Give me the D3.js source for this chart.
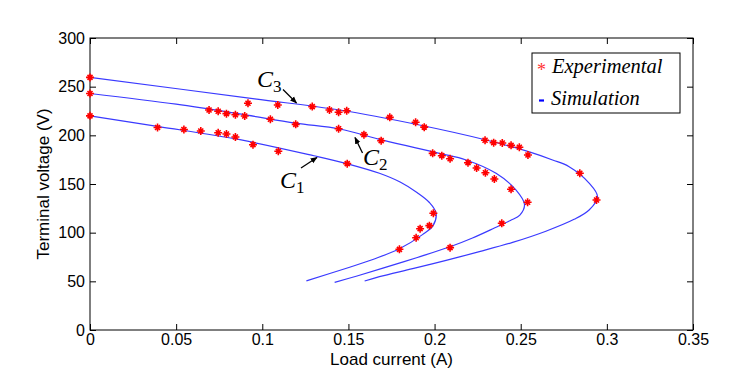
<!DOCTYPE html>
<html lang="en">
  <head>
    <meta charset="UTF-8" />
    <title>Terminal voltage vs load current</title>
    <script src="https://d3js.org/d3.v7.min.js"></script>
    <style>
      body { margin: 0; background: #fff; }
    </style>
  </head>
  <body>
    <svg width="730" height="368"></svg>

    <script>
      // tick values / labels
      const xTicks = [0, 0.05, 0.1, 0.15, 0.2, 0.25, 0.3, 0.35];
      const xTickLabels = ["0", "0.05", "0.1", "0.15", "0.2", "0.25", "0.3", "0.35"];
      const yTicks = [0, 50, 100, 150, 200, 250, 300];
      const yTickLabels = ["0", "50", "100", "150", "200", "250", "300"];

      // simulation curves [current A, voltage V]
      const simC1 = [[0, 220], [0.04, 209], [0.087, 195.5], [0.13, 179], [0.15, 170.5],
        [0.168, 161], [0.18, 152], [0.19, 141], [0.197, 131], [0.2009, 120], [0.199, 107],
        [0.193, 98], [0.1796, 83.5], [0.165, 73], [0.1507, 64.5], [0.1256, 50.5]];
      const simC2 = [[0, 243], [0.05, 232], [0.0869, 222], [0.1194, 212.5], [0.1449, 206.5],
        [0.17, 195], [0.2028, 181.5], [0.2183, 174.7], [0.2357, 161], [0.2472, 144],
        [0.2522, 129], [0.2495, 118], [0.244, 112.5], [0.235, 105], [0.222, 94.5],
        [0.209, 85.5], [0.19, 74.5], [0.17, 63.5], [0.155, 55.5], [0.142, 49]];
      const simC3 = [[0, 259.5], [0.0956, 237.5], [0.1449, 226], [0.1912, 210.6],
        [0.2299, 195.2], [0.255, 183], [0.2685, 174.7], [0.2781, 167.8], [0.2897, 151],
        [0.2946, 137], [0.2897, 123.3], [0.281, 113.7], [0.2646, 101.5], [0.2453, 90],
        [0.226, 80.5], [0.2067, 71.5], [0.1873, 63], [0.168, 54.8], [0.1594, 50.3]];

      // experimental points
      const expC1 = [[0, 220], [0.0392, 208], [0.0545, 206], [0.0643, 204.5], [0.0744, 202.7],
        [0.0792, 201.4], [0.0844, 198.3], [0.0946, 190.4], [0.1093, 183.6], [0.1493, 170.9],
        [0.1993, 119.9], [0.197, 107.2], [0.1916, 104.1], [0.1893, 94.8], [0.1796, 82.9]];
      const expC2 = [[0, 243], [0.0691, 226], [0.0744, 224.7], [0.0792, 222.3], [0.0844, 221.2],
        [0.0898, 219.9], [0.1047, 216.5], [0.1194, 211.3], [0.1443, 206.8], [0.159, 200.7],
        [0.169, 194.5], [0.1989, 181.5], [0.2042, 179.1], [0.209, 176], [0.2194, 171.9],
        [0.2244, 166.4], [0.2295, 161.6], [0.2347, 155.1], [0.2444, 144.6], [0.254, 131.2],
        [0.239, 109.6], [0.209, 84.6]];
      const expC3 = [[0, 259.5], [0.0917, 233], [0.109, 231.2], [0.129, 229.5], [0.139, 226],
        [0.1443, 223.7], [0.149, 225.3], [0.174, 218.5], [0.189, 213.4], [0.194, 208.4],
        [0.2293, 194.9], [0.2343, 192.5], [0.2393, 192.1], [0.2444, 189.7], [0.2492, 187.7],
        [0.2542, 179.8], [0.2843, 161], [0.294, 133.6]];

      const svg = d3.select("svg");
      const pl = 90, pr = 693, pt = 38, pb = 330;

      const x = d3.scaleLinear().domain([0, 0.35]).range([pl, pr]);
      const y = d3.scaleLinear().domain([0, 300]).range([pb, pt]);

      const sansFont = "Arial, 'Liberation Sans', sans-serif";
      const serifFont = "'Times New Roman', 'Liberation Serif', serif";

      // axes, MATLAB style ticks inside
      const gx = svg.append("g").attr("transform", `translate(0,${pb})`)
        .call(d3.axisBottom(x).tickValues(xTicks).tickFormat((d, i) => xTickLabels[i])
          .tickSizeInner(-6).tickSizeOuter(0).tickPadding(4));
      const gy = svg.append("g").attr("transform", `translate(${pl},0)`)
        .call(d3.axisLeft(y).tickValues(yTicks).tickFormat((d, i) => yTickLabels[i])
          .tickSizeInner(-6).tickSizeOuter(0).tickPadding(5));
      const gt = svg.append("g").attr("transform", `translate(0,${pt})`)
        .call(d3.axisTop(x).tickValues(xTicks).tickFormat("").tickSizeInner(-6).tickSizeOuter(0));
      const gr = svg.append("g").attr("transform", `translate(${pr},0)`)
        .call(d3.axisRight(y).tickValues(yTicks).tickFormat("").tickSizeInner(-6).tickSizeOuter(0));

      [gx, gy, gt, gr].forEach(g => {
        g.select(".domain").remove();
        g.selectAll("line").attr("stroke", "#000");
        g.selectAll("text").attr("fill", "#000")
          .style("font-family", sansFont).style("font-size", "16px");
      });

      svg.append("rect")
        .attr("x", pl).attr("y", pt)
        .attr("width", pr - pl).attr("height", pb - pt)
        .attr("fill", "none").attr("stroke", "#000").attr("stroke-width", 1);

      // simulation lines
      const line = d3.line()
        .x(d => x(d[0])).y(d => y(d[1]))
        .curve(d3.curveCatmullRom.alpha(0.5));

      [simC1, simC2, simC3].forEach(s => {
        svg.append("path").attr("d", line(s))
          .attr("fill", "none").attr("stroke", "#3a3aff").attr("stroke-width", 1.2);
      });

      // experimental markers (asterisk)
      const star = "M-4,0L4,0M0,-4L0,4M-2.5,-2.5L2.5,2.5M-2.5,2.5L2.5,-2.5";
      const allExp = expC1.concat(expC2, expC3);
      svg.append("g").selectAll("path")
        .data(allExp).join("path")
        .attr("transform", d => `translate(${x(d[0])},${y(d[1])})`)
        .attr("d", star)
        .attr("stroke", "#ff0000").attr("stroke-width", 1.6).attr("fill", "none");

      // annotations
      svg.append("defs").append("marker")
        .attr("id", "arrow").attr("viewBox", "0 0 10 10")
        .attr("refX", 9).attr("refY", 5)
        .attr("markerWidth", 7).attr("markerHeight", 7)
        .attr("markerUnits", "userSpaceOnUse")
        .attr("orient", "auto")
        .append("path").attr("d", "M0,1L10,5L0,9Z").attr("fill", "#000");

      const notes = [
        { sub: "1", tx: 280, ty: 188, a: [301, 168, 317, 157.5] },
        { sub: "2", tx: 363, ty: 165, a: [362.5, 153, 355, 137.5] },
        { sub: "3", tx: 257, ty: 87, a: [283, 89.5, 296.5, 103] }
      ];
      notes.forEach(n => {
        svg.append("line")
          .attr("x1", n.a[0]).attr("y1", n.a[1]).attr("x2", n.a[2]).attr("y2", n.a[3])
          .attr("stroke", "#000").attr("stroke-width", 1.3)
          .attr("marker-end", "url(#arrow)");
        const t = svg.append("text")
          .attr("x", n.tx).attr("y", n.ty)
          .style("font-family", serifFont).style("font-style", "italic")
          .style("font-size", "24px").attr("fill", "#000")
          .text("C");
        t.append("tspan").attr("dy", 5).style("font-style", "normal")
          .style("font-size", "17px").text(n.sub);
      });

      // legend
      const lg = svg.append("g");
      lg.append("rect").attr("x", 532).attr("y", 53).attr("width", 148).attr("height", 60)
        .attr("fill", "#fff").attr("stroke", "#000").attr("stroke-width", 1);
      lg.append("text").attr("x", 537).attr("y", 76).text("*")
        .attr("fill", "#ff3030").style("font-family", serifFont).style("font-size", "18px");
      lg.append("text").attr("x", 552).attr("y", 73).text("Experimental")
        .attr("fill", "#000").style("font-family", serifFont).style("font-style", "italic")
        .style("font-size", "20.5px");
      lg.append("line").attr("x1", 539).attr("x2", 544).attr("y1", 100.5).attr("y2", 100.5)
        .attr("stroke", "#0000ff").attr("stroke-width", 2.2);
      lg.append("text").attr("x", 551).attr("y", 105).text("Simulation")
        .attr("fill", "#000").style("font-family", serifFont).style("font-style", "italic")
        .style("font-size", "20.5px");

      // axis titles
      svg.append("text")
        .attr("x", (pl + pr) / 2).attr("y", 365)
        .attr("text-anchor", "middle")
        .style("font-family", sansFont).style("font-size", "17px")
        .text("Load current (A)");
      svg.append("text")
        .attr("transform", `translate(49,${(pt + pb) / 2}) rotate(-90)`)
        .attr("text-anchor", "middle")
        .style("font-family", sansFont).style("font-size", "17px")
        .text("Terminal voltage (V)");
    </script>
  </body>
</html>
